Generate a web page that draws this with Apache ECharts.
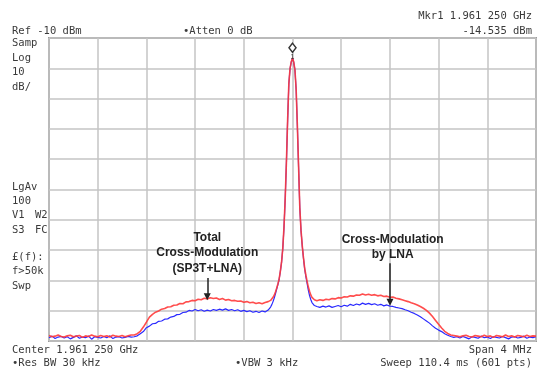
<!DOCTYPE html>
<html>
<head>
<meta charset="utf-8">
<script src="https://cdn.jsdelivr.net/npm/echarts@6/dist/echarts.min.js"></script>
<style>
  html, body { margin: 0; padding: 0; background: #fff; }
  #chart { width: 541px; height: 371px; }
</style>
</head>
<body>
<div id="chart"></div>
<script>
// offset from center 1.961 250 GHz, in kHz (span 4 MHz)
const freqKHz = [
  -2000,-1975,-1950,-1925,-1900,-1875,-1850,-1825,-1800,-1775,-1750,-1725,-1700,-1675,
  -1650,-1625,-1600,-1575,-1550,-1525,-1500,-1475,-1450,-1425,-1400,-1375,-1350,-1325,
  -1300,-1275,-1250,-1225,-1200,-1175,-1150,-1125,-1100,-1075,-1050,-1025,-1000,-975,-950,
  -925,-900,-875,-850,-825,-800,-775,-750,-725,-700,-675,-650,-625,-600,-575,-550,-525,
  -500,-475,-450,-425,-400,-375,-350,-325,-300,-275,-250,-225,-200,
  -190,-180,-170,-160,-150,-140,-130,-120,-110,-100,-90,-80,-70,-60,-50,-40,-30,-20,-10,
  0,10,20,30,40,50,60,70,80,90,100,110,120,130,140,150,160,170,180,190,
  200,225,250,275,300,325,350,375,400,425,450,475,500,525,550,575,600,625,650,675,700,
  725,750,775,800,825,850,875,900,925,950,975,1000,1025,1050,1075,1100,1125,1150,1175,
  1200,1225,1250,1275,1300,1325,1350,
  1375,1400,1425,1450,1475,1500,1525,1550,1575,1600,1625,1650,1675,1700,1725,1750,1775,
  1800,1825,1850,1875,1900,1925,1950,1975,2000
];

// total cross-modulation (SP3T+LNA), dBm
const redDbm = [
  -108.2,-108.6,-108.4,-108.0,-108.5,-108.7,-108.3,-108.1,-108.6,-108.4,-108.2,-108.8,-108.3,-108.5,
  -108.0,-108.4,-108.6,-108.2,-108.5,-108.3,-108.7,-108.1,-108.4,-108.5,-108.2,-108.6,-108.3,-108.0,
  -108.0,-107.6,-106.8,-105.4,-103.8,-102.1,-101.2,-100.5,-100.1,-99.5,-99.3,-98.8,-98.7,-98.2,-98.1,
  -97.6,-97.7,-97.1,-97.0,-96.6,-96.7,-96.2,-96.4,-95.9,-96.1,-95.7,-96.0,-95.8,-96.3,-96.0,-96.5,-96.3,
  -96.7,-96.6,-96.9,-96.8,-97.2,-97.0,-97.4,-97.2,-97.6,-97.4,-97.7,-97.3,-97.0,
  -96.8,-96.6,-96.2,-95.6,-94.9,-93.8,-92.6,-91.2,-89.6,-87.0,-84.0,-79.5,-72.5,-63.0,-51.0,-37.0,-25.0,-20.0,-17.8,
  -16.6,-17.9,-20.5,-27.0,-39.0,-52.5,-66.0,-73.5,-78.5,-82.5,-86.0,-88.3,-90.3,-92.2,-93.6,-94.8,-95.6,-96.1,-96.4,-96.6,
  -96.7,-96.4,-96.6,-96.2,-96.4,-96.0,-96.1,-95.7,-95.8,-95.4,-95.5,-95.1,-95.2,-94.8,-94.9,-94.5,-94.8,-94.6,-94.9,-94.7,-95.1,
  -94.9,-95.3,-95.2,-95.6,-95.5,-95.9,-96.1,-96.4,-96.7,-97.0,-97.4,-97.7,-98.1,-98.6,-99.2,-99.9,-100.8,-101.9,-103.2,
  -104.5,-105.7,-106.8,-107.5,-108.0,-108.2,-108.4,
  -108.6,-108.3,-108.1,-108.5,-108.7,-108.2,-108.4,-108.6,-108.1,-108.5,-108.3,-108.8,-108.2,-108.4,-108.6,-108.0,-108.5,
  -108.3,-108.7,-108.2,-108.4,-108.6,-108.1,-108.5,-108.3,-108.4
];

// cross-modulation by LNA, dBm
const blueDbm = [
  -108.9,-108.4,-109.2,-108.7,-108.5,-109.0,-108.6,-109.3,-108.8,-108.3,-109.1,-108.7,-108.9,-108.4,
  -109.4,-108.6,-108.8,-109.0,-108.5,-108.9,-108.3,-109.2,-108.7,-108.6,-109.0,-108.8,-108.5,-108.7,
  -108.6,-108.3,-107.6,-106.9,-105.6,-105.1,-104.3,-104.2,-103.5,-103.4,-102.8,-102.7,-102.1,-101.9,-101.3,
  -101.2,-100.6,-100.5,-99.9,-100.1,-99.6,-100.0,-99.7,-100.2,-99.8,-100.1,-99.6,-99.9,-99.5,-99.8,-99.4,-99.9,
  -99.6,-100.0,-99.7,-100.2,-99.9,-100.3,-100.0,-100.5,-100.2,-100.6,-100.1,-100.4,-99.8,
  -99.3,-98.8,-98.0,-97.0,-95.8,-94.4,-92.9,-91.4,-89.7,-87.1,-84.1,-79.6,-72.6,-63.1,-51.1,-37.1,-25.1,-20.1,-17.9,
  -16.7,-18.0,-20.6,-27.1,-39.1,-52.6,-66.1,-73.6,-78.6,-82.7,-86.3,-88.8,-91.0,-93.2,-95.0,-96.3,-97.3,-97.9,-98.3,-98.5,
  -98.6,-98.9,-98.5,-98.8,-98.4,-98.9,-98.6,-98.3,-98.7,-98.2,-98.5,-97.9,-98.3,-97.8,-98.1,-97.5,-97.9,-97.6,-98.0,-97.7,-98.2,
  -97.9,-98.4,-98.1,-98.5,-98.6,-98.9,-99.1,-99.3,-99.7,-100.0,-100.5,-100.9,-101.4,-102.0,-102.7,-103.4,-104.1,-105.0,-105.8,
  -106.4,-106.9,-107.6,-108.1,-108.5,-108.8,-108.6,
  -109.0,-108.5,-108.9,-109.3,-108.6,-108.8,-109.1,-108.4,-108.9,-108.7,-109.2,-108.6,-108.8,-109.0,-108.5,-108.9,-109.3,
  -108.7,-108.6,-109.0,-108.8,-108.4,-109.1,-108.7,-108.9,-108.6
];

const markerLevel = -14.535;

// annotations, in (kHz, dBm)
const totalNote = { text: "Total\nCross-Modulation\n(SP3T+LNA)", at: [-700, -81], arrow: [[-700, -89.2], [-700, -95.4]] };
const lnaNote = { text: "Cross-Modulation\nby LNA", at: [823, -79.1], arrow: [[801, -84.3], [801, -97.2]] };

const sideLabels = [
  ["Samp", 12, 43.5], ["Log", 12, 58], ["10", 12, 72.5], ["dB/", 12, 87],
  ["LgAv", 12, 187], ["100", 12, 201], ["V1", 12, 215], ["W2", 35, 215],
  ["S3", 12, 230], ["FC", 35, 230],
  ["£(f):", 12, 257], ["f>50k", 12, 271], ["Swp", 12, 286]
];

const chart = echarts.init(document.getElementById("chart"));
const mono = "10.5px 'DejaVu Sans Mono', monospace";
const ink = "#3a3a3a";

const txt = (text, x, y, align) => ({
  type: "text",
  x: x,
  y: y,
  silent: true,
  style: { text: text, font: mono, fill: ink, textAlign: align || "left", textVerticalAlign: "middle" },
});

const graphics = [
  txt("Ref -10 dBm", 12, 31),
  txt("\u2022Atten 0 dB", 183, 31),
  txt("Mkr1 1.961 250 GHz", 532, 16, "right"),
  txt("-14.535 dBm", 532, 31, "right"),
  txt("Center 1.961 250 GHz", 12, 350),
  txt("Span 4 MHz", 532, 350, "right"),
  txt("\u2022Res BW 30 kHz", 12, 363),
  txt("\u2022VBW 3 kHz", 235, 363),
  txt("Sweep 110.4 ms (601 pts)", 532, 363, "right"),
].concat(sideLabels.map((s) => txt(s[0], s[1], s[2])));

const noteLabel = {
  show: true,
  position: "inside",
  fontFamily: "'Liberation Sans', Arial, sans-serif",
  fontWeight: "bold",
  fontSize: 12,
  lineHeight: 15.5,
  color: "#222",
};

const option = {
  animation: false,
  backgroundColor: "#fff",
  graphic: graphics,
  grid: {
    left: 49,
    right: 5,
    top: 38,
    bottom: 30,
    show: true,
    borderColor: "#9c9c9c",
    borderWidth: 2,
  },
  xAxis: {
    type: "value",
    min: -2000,
    max: 2000,
    interval: 400,
    axisLine: { show: false },
    axisTick: { show: false },
    axisLabel: { show: false },
    splitLine: { lineStyle: { color: "#c4c4c4", width: 1.5 } },
  },
  yAxis: {
    type: "value",
    min: -110,
    max: -10,
    interval: 10,
    axisLine: { show: false },
    axisTick: { show: false },
    axisLabel: { show: false },
    splitLine: { lineStyle: { color: "#c4c4c4", width: 1.5 } },
  },
  series: [
    {
      name: "by LNA",
      type: "line",
      symbol: "none",
      data: freqKHz.map((f, i) => [f, blueDbm[i]]),
      lineStyle: { color: "#2a2aff", width: 1.2 },
      z: 2,
    },
    {
      name: "SP3T+LNA",
      type: "line",
      symbol: "none",
      data: freqKHz.map((f, i) => [f, redDbm[i]]),
      lineStyle: { color: "#ff3a3a", width: 1.6, opacity: 0.9 },
      z: 3,
      markPoint: {
        silent: true,
        data: [
          {
            coord: [0, markerLevel],
            symbol: "diamond",
            symbolSize: [7, 9],
            symbolOffset: [0, -4],
            itemStyle: { color: "#fff", borderColor: "#333", borderWidth: 1.5 },
            label: { show: true, position: "bottom", distance: 0, formatter: "1", fontSize: 7, color: "#333" },
          },
          { coord: totalNote.at, symbol: "rect", symbolSize: 1, itemStyle: { color: "rgba(0,0,0,0)" }, label: Object.assign({ formatter: totalNote.text }, noteLabel) },
          { coord: lnaNote.at, symbol: "rect", symbolSize: 1, itemStyle: { color: "rgba(0,0,0,0)" }, label: Object.assign({ formatter: lnaNote.text }, noteLabel) },
        ],
      },
      markLine: {
        silent: true,
        symbol: ["none", "triangle"],
        symbolSize: [7, 7],
        label: { show: false },
        lineStyle: { color: "#222", width: 1.5, type: "solid" },
        data: [
          [{ coord: totalNote.arrow[0] }, { coord: totalNote.arrow[1] }],
          [{ coord: lnaNote.arrow[0] }, { coord: lnaNote.arrow[1] }],
        ],
      },
    },
  ],
};

chart.setOption(option);
</script>
</body>
</html>
